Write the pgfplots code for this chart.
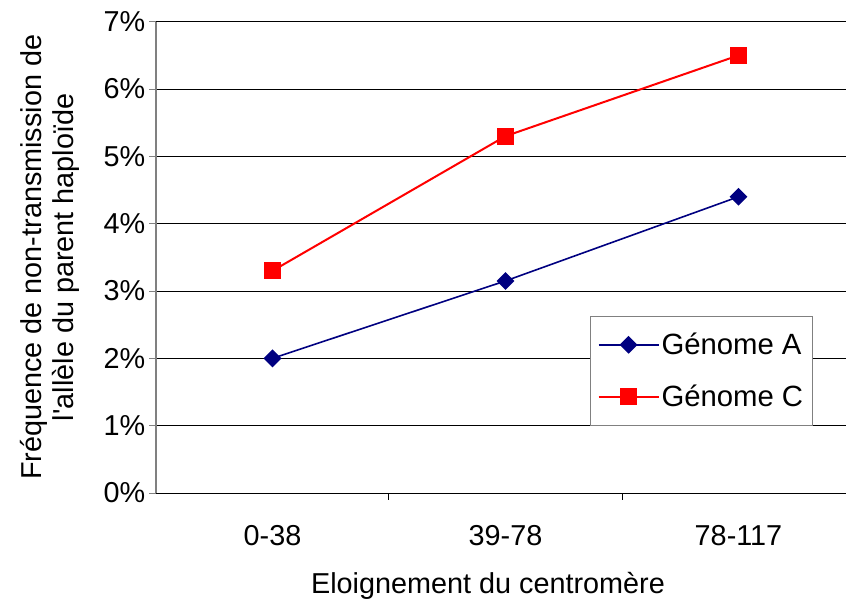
\documentclass[border=0pt]{standalone}
\usepackage{fontspec}
\setmainfont{Liberation Sans}
\usepackage{pgfplots}
\pgfplotsset{compat=1.18}
\definecolor{navyA}{RGB}{0,0,128}
\definecolor{redC}{RGB}{255,0,0}
\definecolor{axgray}{RGB}{128,128,128}
\begin{document}
\begin{tikzpicture}
\useasboundingbox (-156pt,-113pt) rectangle (690pt,493pt);
\begin{axis}[
  at={(0pt,0pt)}, anchor=south west,
  scale only axis, width=690pt, height=471.3pt,
  xmin=-0.5, xmax=2.4614, ymin=0, ymax=7,
  axis lines=left,
  x axis line style={-,black,line width=1pt},
  y axis line style={-,axgray,line width=1.2pt},
  tick align=outside,
  ytick={0,1,2,3,4,5,6,7},
  yticklabel={\pgfmathprintnumber{\tick}\%},
  /pgf/number format/assume math mode=true,
  ymajorgrids, grid style={black,line width=1pt},
  ytick style={axgray,line width=1pt},
  y tick label style={anchor=east,inner sep=0pt,xshift=-4pt},
  major tick length=6.5pt,
  xtick={0.5,1.5},
  xticklabels={},
  x tick style={black,line width=1pt},
  extra x ticks={0,1,2},
  extra x tick labels={0-38,39-78,78-117},
  extra x tick style={major tick length=0pt, x tick label style={anchor=north,inner sep=0pt,yshift=-32pt}},
  tick label style={font=\fontsize{28.8}{34}\selectfont},
  label style={font=\fontsize{28.8}{32}\selectfont},
  xlabel={Eloignement du centromère},
  xlabel style={at={(axis description cs:0.4812,-0.2123)},anchor=base},
  ylabel={Fréquence de non-transmission de\\l\textquotesingle allèle du parent haploïde},
  ylabel style={align=center,at={(axis description cs:-0.1536,0.5)},anchor=center},
  legend style={at={(axis description cs:0.629,0.376)},anchor=north west,
    draw=axgray,line width=1pt,fill=white,
    font=\fontsize{29.3}{34}\selectfont,
    inner xsep=7pt,inner ysep=15pt,row sep=25pt,
    cells={anchor=west}},
  legend image code/.code={\draw[mark repeat=2,mark phase=2,#1] plot coordinates {(0pt,0pt) (30pt,0pt) (60pt,0pt)};},
]
\addplot[color=navyA,line width=1.6pt,mark=square*,mark size=5.5pt,mark options={rotate=45,fill=navyA}]
  coordinates {(0,2.0) (1,3.15) (2,4.4)};
\addlegendentry{Génome A}
\addplot[color=redC,line width=2pt,mark=square*,mark size=7.5pt,mark options={fill=redC}]
  coordinates {(0,3.3) (1,5.3) (2,6.5)};
\addlegendentry{Génome C}
\end{axis}
\end{tikzpicture}
\end{document}
